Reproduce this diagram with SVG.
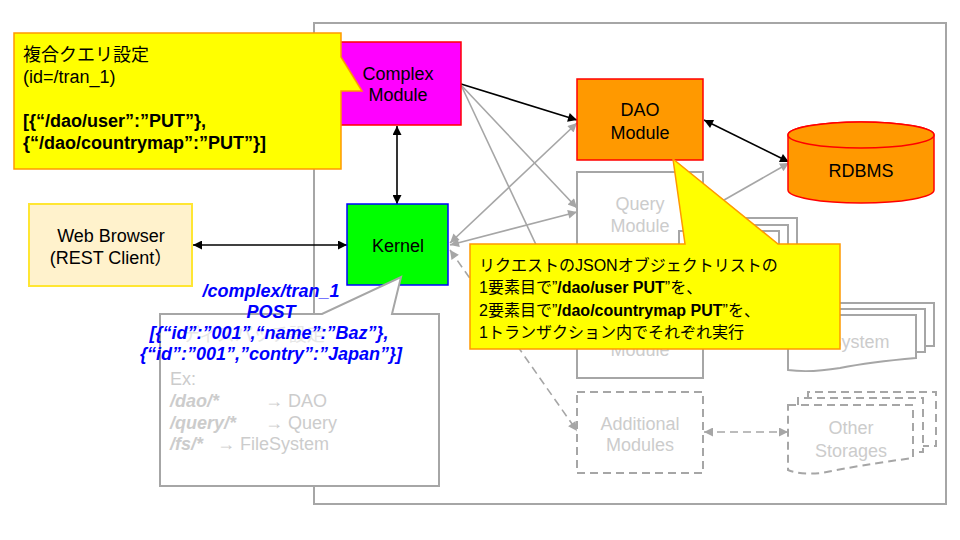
<svg xmlns="http://www.w3.org/2000/svg" width="960" height="540" viewBox="0 0 960 540">
<style>
text{font-family:"Liberation Sans","Noto Sans CJK JP",sans-serif;font-size:18px}
.c{text-anchor:middle}
.dim{fill:#cccccc}
.b{font-weight:bold}
.bi{font-weight:bold;font-style:italic}
.blue{fill:#0000ff}
.gbox{fill:#fff;stroke:#a6a6a6;stroke-width:2}
.gline{fill:none;stroke:#a6a6a6;stroke-width:2}
.dash{stroke-dasharray:8 5}
.k{stroke:#000;stroke-width:1.6;fill:none}
.g{stroke:#a6a6a6;stroke-width:1.6;fill:none}
.note{fill:#ffff00;stroke:#ff9900;stroke-width:1.5}
</style>
<defs>
<marker id="ak" viewBox="0 0 10 10" refX="10" refY="5" markerWidth="12" markerHeight="9" markerUnits="userSpaceOnUse" orient="auto-start-reverse"><path d="M0,0 L10,5 L0,10 z" fill="#000"/></marker>
<marker id="ag" viewBox="0 0 10 10" refX="10" refY="5" markerWidth="12" markerHeight="9" markerUnits="userSpaceOnUse" orient="auto-start-reverse"><path d="M0,0 L10,5 L0,10 z" fill="#a6a6a6"/></marker>
</defs>

<rect id="container" x="314" y="23" width="632" height="481" fill="none" stroke="#a6a6a6" stroke-width="2"/>

<g id="connectors">
<line class="k" x1="397" y1="126" x2="397" y2="204" marker-start="url(#ak)" marker-end="url(#ak)"/>
<line class="k" x1="193" y1="245" x2="347" y2="245" marker-start="url(#ak)" marker-end="url(#ak)"/>
<line class="k" x1="461" y1="84" x2="577" y2="120" marker-end="url(#ak)"/>
<line class="k" x1="704" y1="120" x2="789" y2="162" marker-start="url(#ak)" marker-end="url(#ak)"/>
<line class="g" x1="461" y1="85" x2="577" y2="208" marker-end="url(#ag)"/>
<line class="g" x1="461" y1="85" x2="577" y2="332" marker-end="url(#ag)"/>
<line class="g" x1="450" y1="243" x2="577" y2="123" marker-start="url(#ag)" marker-end="url(#ag)"/>
<line class="g" x1="450" y1="245" x2="577" y2="212" marker-start="url(#ag)" marker-end="url(#ag)"/>
<line class="g dash" x1="450" y1="250" x2="577" y2="431" marker-start="url(#ag)" marker-end="url(#ag)"/>
<line class="g" x1="703" y1="212" x2="789" y2="163" marker-end="url(#ag)"/>
<line class="g dash" x1="704" y1="432" x2="788" y2="432" marker-start="url(#ag)" marker-end="url(#ag)"/>
</g>

<g id="complex-module">
<rect x="336" y="42" width="125" height="83" fill="#ff00ff" stroke="#ff0000" stroke-width="1.5"/>
<text class="c" x="398" y="79.5">Complex</text>
<text class="c" x="398" y="100.5">Module</text>
</g>

<g id="kernel">
<rect x="347" y="204" width="101" height="81" fill="#00ff00" stroke="#0000ff" stroke-width="1.5"/>
<text class="c" x="398" y="251.5">Kernel</text>
</g>

<g id="web-browser">
<rect x="29" y="204" width="163" height="82" fill="#fff2cc" stroke="#ffe633" stroke-width="2"/>
<text class="c" x="111" y="241.5">Web Browser</text>
<text class="c" x="111" y="263.5">(REST Client）</text>
</g>

<g id="dao-module">
<rect x="577" y="79" width="126" height="81" fill="#ff9900" stroke="#ff0000" stroke-width="1.5"/>
<text class="c" x="640" y="115.5">DAO</text>
<text class="c" x="640" y="138.5">Module</text>
</g>

<g id="rdbms">
<path d="M788,135 L788,190 A73,13 0 0 0 934,190 L934,135 A73,13 0 0 0 788,135 Z" fill="#ff9900" stroke="#ff0000" stroke-width="1.5"/>
<ellipse cx="861" cy="135" rx="73" ry="13" fill="#ff9900" stroke="#ff0000" stroke-width="1.5"/>
<text class="c" x="861" y="176.5">RDBMS</text>
</g>

<g id="query-module">
<rect class="gbox" x="577" y="172" width="126" height="83"/>
<text class="c dim" x="640" y="209.5">Query</text>
<text class="c dim" x="640" y="231.5">Module</text>
</g>

<g id="stack-modules">
<path class="gline" d="M699,260 V218 H797 V260"/>
<path class="gline" d="M689,260 V225 H788 V260"/>
<rect class="gbox" x="679" y="231" width="100" height="40"/>
</g>

<g id="fs-module">
<rect class="gbox" x="577" y="296" width="126" height="82"/>
<text class="c dim" x="640" y="355.5">Module</text>
</g>

<g id="filesystem">
<path class="gline" d="M808,309 V303 H934 V346 H925"/>
<path class="gline" d="M798,315 V309 H925 V352 H916"/>
<path class="gbox" d="M788,315 H916 V358 Q870,362 840,368 Q810,373 788,370 Z"/>
<text class="c dim" x="845" y="348">FileSystem</text>
</g>

<g id="additional-modules">
<rect class="gbox dash" x="577" y="392" width="126" height="81"/>
<text class="c dim" x="640" y="429.5">Additional</text>
<text class="c dim" x="640" y="450.5">Modules</text>
</g>

<g id="other-storages">
<path class="gline dash" d="M808,398 V392 H936 V446 H923"/>
<path class="gline dash" d="M798,405 V398 H923 V452 H913"/>
<path class="gbox dash" d="M788,405 H913 V458 Q860,465 822,473 Q800,475 788,470 Z"/>
<text class="c dim" x="851" y="433.5">Other</text>
<text class="c dim" x="851" y="456.5">Storages</text>
</g>

<g id="note-complex">
<path class="note" d="M14,33 H341 V57 L362,91 H341 V169 H14 Z"/>
<text x="23" y="61">複合クエリ設定</text>
<text x="23" y="83">(id=/tran_1)</text>
<text class="b" x="23" y="127">[{“/dao/user”:”PUT”},</text>
<text class="b" x="23" y="149">{“/dao/countrymap”:”PUT”}]</text>
</g>

<g id="note-dispatch">
<path d="M160,314 H322 L401,277 L392,314 H439 V486 H160 Z" fill="#fff" stroke="#a6a6a6" stroke-width="2"/>
<text x="182" y="341" fill="#e6e6e6">ディスパッチ設定</text>
<text class="dim" x="170" y="385">Ex:</text>
<text class="dim bi" x="170" y="407">/dao/*</text>
<text class="dim" x="265" y="407">→ DAO</text>
<text class="dim bi" x="170" y="428.5">/query/*</text>
<text class="dim" x="265" y="428.5">→ Query</text>
<text class="dim bi" x="170" y="450">/fs/*</text>
<text class="dim" x="217" y="450">→ FileSystem</text>
</g>

<g id="request-label">
<text class="c bi blue" x="271" y="297">/complex/tran_1</text>
<text class="c bi blue" x="271" y="318">POST</text>
<text class="c bi blue" x="269" y="339">[{“id”:”001”,“name”:”Baz”},</text>
<text class="c bi blue" x="271" y="360">{“id”:”001”,”contry”:”Japan”}]</text>
</g>

<g id="note-transaction">
<path class="note" d="M470,244 H685 L673,159 L778,244 H840 V349 H470 Z"/>
<text x="479" y="271" style="font-size:16px">リクエストのJSONオブジェクトリストの</text>
<text x="479" y="293" style="font-size:16px">1要素目で”<tspan class="b">/dao/user PUT</tspan>”を、</text>
<text x="479" y="316" style="font-size:16px">2要素目で”<tspan class="b">/dao/countrymap PUT</tspan>”を、</text>
<text x="479" y="338" style="font-size:16px">1トランザクション内でそれぞれ実行</text>
</g>
</svg>
